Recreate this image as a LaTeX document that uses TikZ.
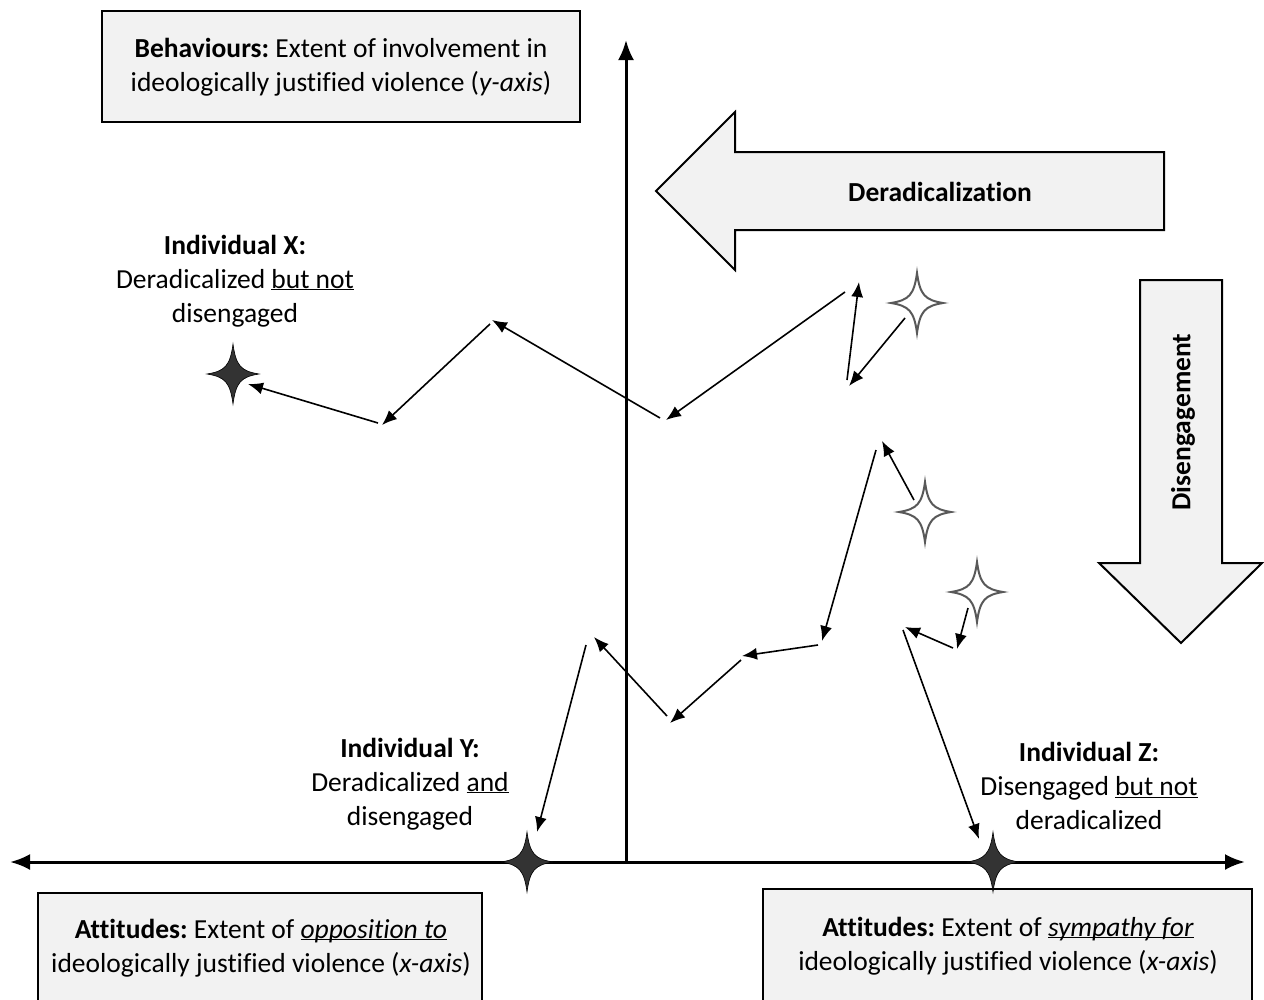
\documentclass[tikz,border=0pt]{standalone}
\usepackage{fontspec}
\setmainfont[Ligatures=NoCommon]{Carlito}
\usetikzlibrary{arrows.meta}
\frenchspacing
\newcommand\uln[1]{\underline{\smash{#1}}}
\definecolor{boxgray}{HTML}{F2F2F2}
\definecolor{stardark}{HTML}{333333}
\definecolor{starline}{HTML}{595959}
\tikzset{
  txt/.style={font=\fontsize{27.5}{34}\selectfont, align=center, inner sep=0pt},
  boldtxt/.style={txt, font=\fontsize{27.5}{34}\selectfont\bfseries},
  infobox/.style={draw=black, line width=1.5pt, fill=boxgray},
  axis/.style={line width=3pt, {Latex[length=20pt,width=16pt]}-{Latex[length=20pt,width=16pt]}},
  yaxis/.style={line width=3pt, -{Latex[length=20pt,width=16pt]}},
  move/.style={line width=1.6pt, -{Latex[length=15pt,width=12pt]}},
  bigarrow/.style={draw=black, line width=2pt, fill=boxgray, line join=miter},
  fstar/.pic={\path[pic actions] (0,30) .. controls (3,8) and (8,3) .. (26,0) .. controls (8,-3) and (3,-8) .. (0,-30) .. controls (-3,-8) and (-8,-3) .. (-26,0) .. controls (-8,3) and (-3,8) .. cycle;},
  darkstar/.style={fill=stardark, draw=black, line width=0.6pt},
  lightstar/.style={fill=white, draw=starline, line width=2pt},
}
\begin{document}
\begin{tikzpicture}[x=1pt,y=-1pt]
\useasboundingbox (0,0) rectangle (1264,999);
% boxes
\path[infobox] (102,11) rectangle (580,122);
\node[txt] (beh) at (341,67) {\textbf{Behaviours:} Extent of involvement in\\ideologically justified violence (\textit{y-axis})};
\path[infobox] (38,893) rectangle (482,1010);
\node[txt] (attl) at (261,948) {\textbf{Attitudes:} Extent of \uln{\textit{opposition to}}\\ideologically justified violence (\textit{x-axis})};
\path[infobox] (763,889) rectangle (1252,1010);
\node[txt] (attr) at (1008,946) {\textbf{Attitudes:} Extent of \uln{\textit{sympathy for}}\\ideologically justified violence (\textit{x-axis})};
% big arrows
\path[bigarrow] (656,191) -- (735,112) -- (735,152) -- (1164,152) -- (1164,230) -- (735,230) -- (735,270) -- cycle;
\node[boldtxt] (derad) at (940,192) {Deradicalization};
\path[bigarrow] (1140,280) -- (1222,280) -- (1222,563) -- (1262,563) -- (1181,643) -- (1099,563) -- (1140,563) -- cycle;
\node[boldtxt, rotate=90] (diseng) at (1183,422) {Disengagement};
% axes
\coordinate (xl) at (10,862);
\coordinate (xr) at (1245,862);
\coordinate (yb) at (626,863.5);
\coordinate (yt) at (626,40);
\draw[axis] (xl) -- (xr);
\draw[yaxis] (yb) -- (yt);
% labels
\node[txt] (indx) at (235,281) {\textbf{Individual X:}\\Deradicalized \uln{but not}\\disengaged};
\node[txt] (indy) at (410,784) {\textbf{Individual Y:}\\Deradicalized \uln{and}\\disengaged};
\node[txt] (indz) at (1089,786) {\textbf{Individual Z:}\\Disengaged \uln{but not}\\deradicalized};
% stars
\coordinate (sx) at (233,374);
\coordinate (sy) at (527,862);
\coordinate (sz) at (993,862);
\coordinate (s1) at (917,303);
\coordinate (s2) at (925,512);
\coordinate (s3) at (977,592);
\pic[darkstar] at (sx) {fstar};
\pic[darkstar] at (sy) {fstar};
\pic[darkstar] at (sz) {fstar};
\pic[lightstar] at (s1) {fstar};
\pic[lightstar] at (s2) {fstar};
\pic[lightstar] at (s3) {fstar};
% X path
\coordinate (xa1) at (905,318); \coordinate (xa2) at (849,386);
\coordinate (xb1) at (847,380); \coordinate (xb2) at (859,282);
\coordinate (xc1) at (845,292); \coordinate (xc2) at (666,420);
\coordinate (xd1) at (660,418); \coordinate (xd2) at (492,320);
\coordinate (xe1) at (490,324); \coordinate (xe2) at (382,425);
\coordinate (xf1) at (378,423); \coordinate (xf2) at (248,384);
\draw[move] (xa1) -- (xa2);
\draw[move] (xb1) -- (xb2);
\draw[move] (xc1) -- (xc2);
\draw[move] (xd1) -- (xd2);
\draw[move] (xe1) -- (xe2);
\draw[move] (xf1) -- (xf2);
% Y path
\coordinate (ya1) at (914,500); \coordinate (ya2) at (882,441);
\coordinate (yb1) at (876,450); \coordinate (yb2) at (822,641);
\coordinate (yc1) at (818,645); \coordinate (yc2) at (742,656);
\coordinate (yd1) at (741,660); \coordinate (yd2) at (670,723);
\coordinate (ye1) at (667,716); \coordinate (ye2) at (594,637);
\coordinate (yf1) at (586,645); \coordinate (yf2) at (537,832);
\draw[move] (ya1) -- (ya2);
\draw[move] (yb1) -- (yb2);
\draw[move] (yc1) -- (yc2);
\draw[move] (yd1) -- (yd2);
\draw[move] (ye1) -- (ye2);
\draw[move] (yf1) -- (yf2);
% Z path
\coordinate (za1) at (968,608); \coordinate (za2) at (957,649);
\coordinate (zb1) at (953,648); \coordinate (zb2) at (905,627);
\coordinate (zc1) at (903,630); \coordinate (zc2) at (979,839);
\draw[move] (za1) -- (za2);
\draw[move] (zb1) -- (zb2);
\draw[move] (zc1) -- (zc2);
\end{tikzpicture}
\end{document}
